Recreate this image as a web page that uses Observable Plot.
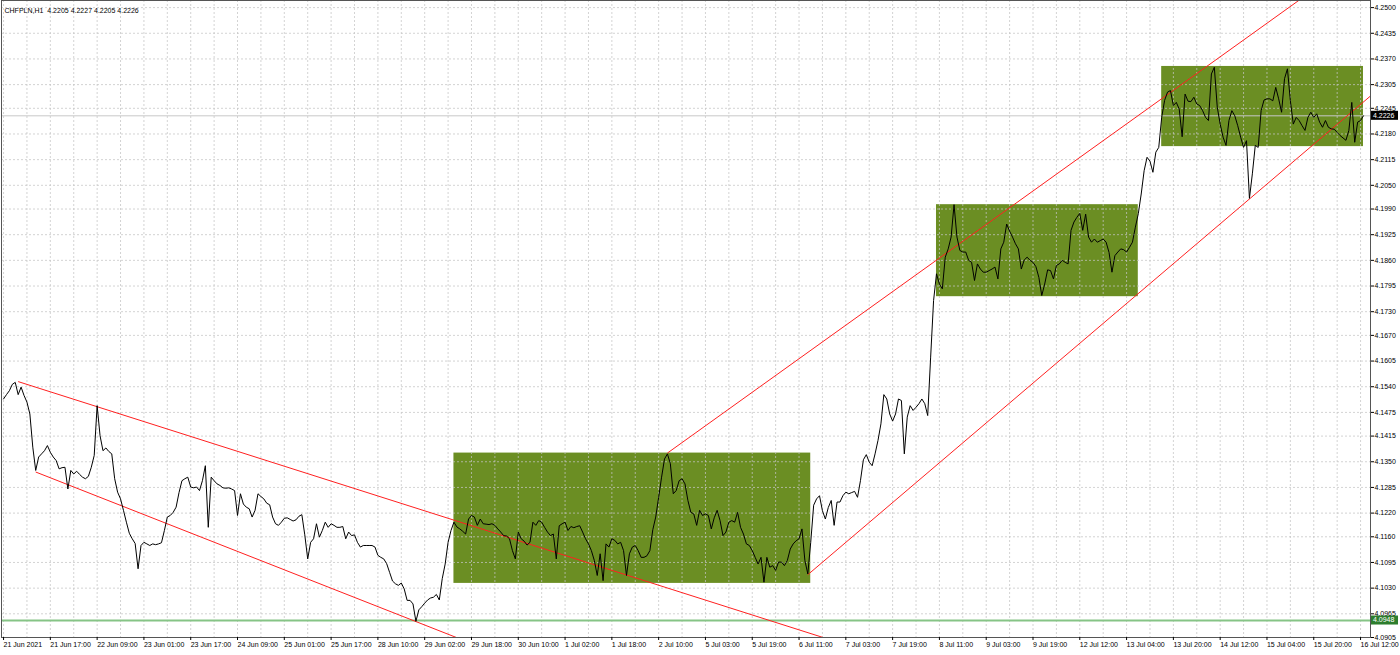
<!DOCTYPE html>
<html><head><meta charset="utf-8">
<script src="https://cdn.jsdelivr.net/npm/d3@7"></script>
<script src="https://cdn.jsdelivr.net/npm/@observablehq/plot@0.6"></script>
<style>
html,body{margin:0;padding:0;background:#fff;}
#chart{width:1400px;height:655px;overflow:hidden;}
</style></head><body><div id="chart"></div>
<script>
const chartTitle = "CHFPLN,H1\u00a0\u00a04.2205 4.2227 4.2205 4.2226";
const xLabels = ["21 Jun 2021","21 Jun 17:00","22 Jun 09:00","23 Jun 01:00","23 Jun 17:00","24 Jun 09:00","25 Jun 01:00","25 Jun 17:00","28 Jun 10:00","29 Jun 02:00","29 Jun 18:00","30 Jun 10:00","1 Jul 02:00","1 Jul 18:00","2 Jul 10:00","5 Jul 03:00","5 Jul 19:00","6 Jul 11:00","7 Jul 03:00","7 Jul 19:00","8 Jul 11:00","9 Jul 03:00","9 Jul 19:00","12 Jul 12:00","13 Jul 04:00","13 Jul 20:00","14 Jul 12:00","15 Jul 04:00","15 Jul 20:00","16 Jul 12:00"];
const barsPerLabel = 16;
const yTickValues = [4.2500,4.2435,4.2370,4.2305,4.2245,4.2180,4.2115,4.2050,4.1990,4.1925,4.1860,4.1795,4.1730,4.1670,4.1605,4.1540,4.1475,4.1415,4.1350,4.1285,4.1220,4.1160,4.1095,4.1030,4.0965,4.0905];
// hourly closes, one per bar (bar 0 = 21 Jun 2021)
const closes = [
4.1509,4.1520,4.1530,4.1546,4.1551,4.1520,4.1539,4.1518,4.1501,4.1471,
4.1387,4.1328,4.1362,4.1370,4.1378,4.1391,4.1374,4.1362,4.1353,4.1332,
4.1335,4.1336,4.1281,4.1328,4.1319,4.1326,4.1318,4.1311,4.1307,4.1313,
4.1336,4.1366,4.1492,4.1416,4.1378,4.1385,4.1376,4.1370,4.1307,4.1273,
4.1256,4.1227,4.1197,4.1169,4.1155,4.1143,4.1079,4.1138,4.1146,4.1142,
4.1138,4.1142,4.1140,4.1142,4.1145,4.1176,4.1210,4.1214,4.1222,4.1235,
4.1272,4.1302,4.1307,4.1311,4.1286,4.1284,4.1286,4.1277,4.1302,4.1340,
4.1184,4.1311,4.1302,4.1294,4.1290,4.1284,4.1283,4.1284,4.1281,4.1277,
4.1214,4.1269,4.1243,4.1235,4.1231,4.1210,4.1227,4.1269,4.1262,4.1256,
4.1245,4.1241,4.1210,4.1193,4.1189,4.1197,4.1207,4.1208,4.1204,4.1200,
4.1203,4.1212,4.1216,4.1165,4.1104,4.1146,4.1155,4.1193,4.1159,4.1176,
4.1197,4.1184,4.1193,4.1189,4.1184,4.1184,4.1186,4.1155,4.1172,4.1163,
4.1165,4.1146,4.1134,4.1138,4.1138,4.1138,4.1138,4.1134,4.1113,4.1108,
4.1104,4.1092,4.1070,4.1048,4.1041,4.1037,4.1043,4.1028,4.0999,4.0999,
4.0990,4.0946,4.0975,4.0983,4.0992,4.1000,4.1005,4.1007,4.1014,4.1000,
4.1054,4.1091,4.1146,4.1176,4.1197,4.1185,4.1180,4.1174,4.1167,4.1205,
4.1214,4.1210,4.1189,4.1205,4.1193,4.1192,4.1191,4.1193,4.1189,4.1180,
4.1172,4.1163,4.1162,4.1155,4.1125,4.1104,4.1172,4.1155,4.1149,4.1139,
4.1146,4.1197,4.1189,4.1201,4.1197,4.1184,4.1172,4.1163,4.1167,4.1104,
4.1188,4.1193,4.1197,4.1176,4.1186,4.1183,4.1186,4.1188,4.1172,4.1155,
4.1142,4.1125,4.1100,4.1062,4.1117,4.1049,4.1142,4.1134,4.1155,4.1151,
4.1142,4.1146,4.1125,4.1062,4.1117,4.1134,4.1138,4.1125,4.1108,4.1108,
4.1112,4.1125,4.1178,4.1210,4.1260,4.1311,4.1357,4.1370,4.1345,4.1269,
4.1277,4.1302,4.1307,4.1294,4.1252,4.1222,4.1218,4.1189,4.1227,4.1214,
4.1218,4.1214,4.1180,4.1208,4.1227,4.1201,4.1163,4.1172,4.1197,4.1201,
4.1197,4.1222,4.1184,4.1167,4.1142,4.1138,4.1125,4.1108,4.1091,4.1108,
4.1045,4.1108,4.1083,4.1087,4.1075,4.1096,4.1096,4.1087,4.1100,4.1129,
4.1142,4.1150,4.1155,4.1180,4.1100,4.1066,4.1146,4.1240,4.1256,4.1264,
4.1226,4.1205,4.1234,4.1252,4.1189,4.1248,4.1248,4.1264,4.1273,4.1269,
4.1272,4.1275,4.1260,4.1302,4.1355,4.1368,4.1349,4.1340,4.1370,4.1404,
4.1446,4.1520,4.1509,4.1471,4.1453,4.1471,4.1509,4.1505,4.1370,4.1463,
4.1492,4.1480,4.1488,4.1497,4.1509,4.1497,4.1467,4.1615,4.1758,4.1826,
4.1800,4.1788,4.1868,4.1889,4.1919,4.2001,4.1919,4.1885,4.1881,4.1881,
4.1860,4.1855,4.1809,4.1851,4.1838,4.1830,4.1830,4.1834,4.1838,4.1843,
4.1813,4.1889,4.1906,4.1952,4.1934,4.1919,4.1902,4.1889,4.1838,4.1861,
4.1868,4.1860,4.1855,4.1844,4.1817,4.1771,4.1800,4.1836,4.1834,4.1813,
4.1847,4.1851,4.1860,4.1855,4.1851,4.1936,4.1957,4.1969,4.1979,4.1936,
4.1977,4.1919,4.1906,4.1914,4.1906,4.1910,4.1914,4.1906,4.1880,4.1830,
4.1872,4.1881,4.1889,4.1887,4.1881,4.1893,4.1906,4.1944,4.1978,4.2028,
4.2087,4.2121,4.2111,4.2083,4.2134,4.2146,4.2222,4.2265,4.2286,4.2290,
4.2252,4.2260,4.2243,4.2173,4.2281,4.2263,4.2262,4.2273,4.2256,4.2252,
4.2239,4.2222,4.2214,4.2332,4.2349,4.2248,4.2205,4.2172,4.2151,4.2214,
4.2239,4.2226,4.2201,4.2172,4.2146,4.2163,4.2017,4.2079,4.2151,4.2146,
4.2239,4.2266,4.2269,4.2269,4.2264,4.2298,4.2269,4.2235,4.2320,4.2345,
4.2264,4.2205,4.2222,4.2214,4.2201,4.2189,4.2222,4.2235,4.2222,4.2231,
4.2210,4.2197,4.2214,4.2197,4.2193,4.2192,4.2184,4.2176,4.2170,4.2164,
4.2189,4.2260,4.2159,4.2210,4.2214,4.2226
];
// consolidation zones (rectangles) in bar / price units
const zoneStart = [154, 319, 396];
const zoneEnd   = [276, 388, 465];
const zoneLow   = [4.1042, 4.1768, 4.2148];
const zoneHigh  = [4.1372, 4.2001, 4.2351];
// trend lines (anchor bar, price) -> (far bar, price)
const trendFrom = [[5, 4.1553], [11, 4.1324], [227, 4.1372], [275, 4.1064]];
const trendTo   = [[290, 4.0882], [160, 4.0890], [450, 4.2556], [468, 4.2280]];
const lastPrice = 4.2226;
const lowLevel = 4.0948;

const W = 1400, H = 655;
const series = closes.map((c, i) => ({bar: i, close: c}));
const zones = zoneStart.map((s, k) => ({start: s, end: zoneEnd[k], low: zoneLow[k], high: zoneHigh[k]}));
const trends = trendFrom.map((f, k) => ({b1: f[0], p1: f[1], b2: trendTo[k][0], p2: trendTo[k][1]}));
const xTicks = xLabels.map((_, k) => k * barsPerLabel);
const gridBars = d3.range(0, closes.length + 2, barsPerLabel / 2);
const FONT = "'Liberation Sans', Arial, sans-serif";

const chart = Plot.plot({
  width: W, height: H,
  marginTop: 0, marginRight: 30, marginBottom: 18, marginLeft: 1,
  style: {fontFamily: FONT, fontSize: "7px", background: "#fff", color: "#000", overflow: "visible"},
  x: {domain: [-0.7, 467.4]},
  y: {domain: [4.0905, 4.2518]},
  marks: [
    Plot.rect(zones, {x1: "start", x2: "end", y1: "low", y2: "high", fill: "#6b8e23"}),
    Plot.ruleX(gridBars, {stroke: "#c4c4c4", strokeOpacity: 0.75, strokeDasharray: "2,2"}),
    Plot.ruleY(yTickValues, {stroke: "#c4c4c4", strokeOpacity: 0.75, strokeDasharray: "2,2"}),
    Plot.ruleY([lowLevel], {stroke: "#86c486", strokeWidth: 2}),
    Plot.ruleY([lastPrice], {stroke: "#c8c8c8"}),
    Plot.link(trends, {x1: "b1", y1: "p1", x2: "b2", y2: "p2", stroke: "#ff2020", strokeWidth: 1, clip: true}),
    Plot.line(series, {x: "bar", y: "close", stroke: "#000", strokeWidth: 1}),
    Plot.frame({stroke: "#555"}),
    Plot.axisY(yTickValues, {anchor: "right", tickSize: 3, tickPadding: 1, tickFormat: d => d.toFixed(4), fontSize: 7, label: null}),
    Plot.axisX(xTicks, {anchor: "bottom", tickSize: 3, tickPadding: 2, tickFormat: d => xLabels[d / barsPerLabel], textAnchor: "start", fontSize: 7, label: null}),
    Plot.text([chartTitle], {frameAnchor: "top-left", dx: 3, dy: 8, textAnchor: "start", fontSize: 7, fill: "#000"})
  ]
});
document.getElementById("chart").appendChild(chart);

// price tags on the right scale
const ys = chart.scale("y");
const svg = d3.select(chart);
const xRight = W - 30;
[{v: lastPrice, bg: "#000", fg: "#fff"}, {v: lowLevel, bg: "#2d7d2d", fg: "#fff"}].forEach(t => {
  const y = ys.apply(t.v);
  const g = svg.append("g").attr("text-anchor", "start");
  g.append("rect").attr("x", xRight + 1).attr("y", y - 4.5).attr("width", 27).attr("height", 9).attr("fill", t.bg);
  g.append("text").attr("x", xRight + 3).attr("y", y).attr("dy", "0.35em").attr("text-anchor", "start")
    .attr("font-family", FONT).attr("font-size", 7).attr("fill", t.fg).text(t.v.toFixed(4));
});
</script></body></html>
